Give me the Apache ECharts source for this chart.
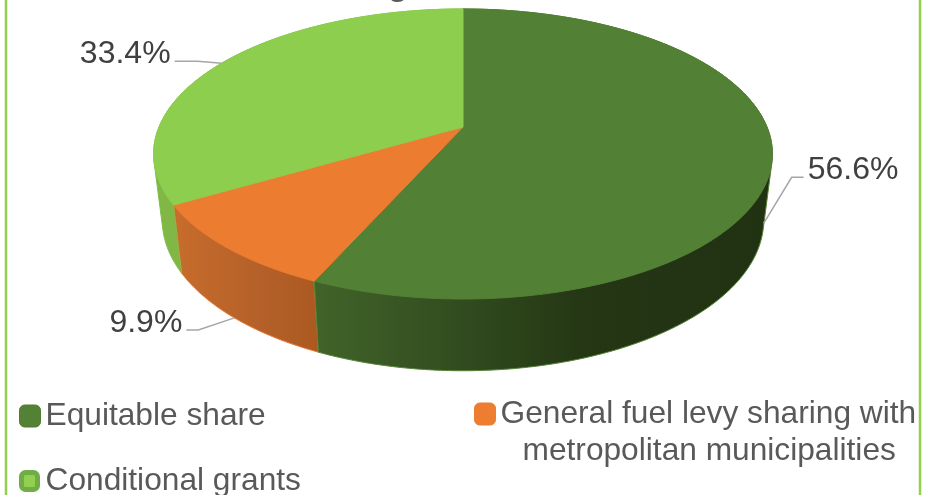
<!DOCTYPE html>
<html>
<head>
<meta charset="utf-8">
<style>html,body{margin:0;padding:0;background:#fff}#c{width:927px;height:495px}</style>
<script src="https://cdn.jsdelivr.net/npm/echarts@6/dist/echarts.min.js"></script>
</head>
<body>
<div id="c"></div>
<script>
const categories = ['Equitable share', 'General fuel levy sharing with metropolitan municipalities', 'Conditional grants'];
const values = [56.6, 9.9, 33.4];
const topColors = ['#528135', '#EB7C30', '#8ECE4F'];
const sideLeftColors = ['#41642A', '#C76D2C', '#80B746'];
const sideMidColors = ['#243614', '#B5602A', '#80B746'];
const sideRightColors = ['#203212', '#AC5921', '#80B746'];
const edgeColors = ['#548235', '#ED7D31', '#7FBF45'];
const sideOrder = [1.5, 1, 0.5];
const labelOffsets = [[28, -46, 40, -46, 46], [-36, 12, -48, 12, -54], [-24, -2, -47, -2, -53]];

// projection of the tilted disc
const CX = 463, CY = 127, A = 304, B = 140, K = 0.186, SX = 0.972;
function topPoint(t) {
  const u = Math.sin(t), v = Math.cos(t), w = 1 + K * v;
  return [CX + A * u / w, CY - B * v / w];
}
function basePoint(t) {
  const p = topPoint(t);
  return [CX + (p[0] - CX) * SX, p[1] + 68 + (p[1] - 205) * 0.04];
}
function hull(pts) {
  const s = pts.slice().sort((a, b) => a[0] - b[0] || a[1] - b[1]);
  const cross = (o, a, b) => (a[0] - o[0]) * (b[1] - o[1]) - (a[1] - o[1]) * (b[0] - o[0]);
  const half = list => {
    const h = [];
    list.forEach(p => {
      while (h.length >= 2 && cross(h[h.length - 2], h[h.length - 1], p) <= 0) h.pop();
      h.push(p);
    });
    h.pop();
    return h;
  };
  return half(s).concat(half(s.slice().reverse()));
}
const total = values.reduce((a, b) => a + b, 0);
function sliceAngles(i) {
  const before = values.slice(0, i).reduce((a, b) => a + b, 0);
  return [before / total * Math.PI * 2, (before + values[i]) / total * Math.PI * 2];
}
function makeRender(i) {
  return function (params, api) {
    const [a0, a1] = sliceAngles(i);
    const n = Math.max(8, Math.round((a1 - a0) * 90));
    const topArc = [], baseArc = [];
    for (let k = 0; k <= n; k++) {
      const t = a0 + (a1 - a0) * k / n;
      topArc.push(topPoint(t));
      baseArc.push(basePoint(t));
    }
    const xs = topArc.concat(baseArc).map(p => p[0]);
    const x0 = Math.min.apply(null, xs), x1 = Math.max.apply(null, xs);
    const sideFill = new echarts.graphic.LinearGradient(x0, 0, x1, 0, [
      { offset: 0, color: sideLeftColors[i] },
      { offset: 0.6, color: sideMidColors[i] },
      { offset: 1, color: sideRightColors[i] }
    ], true);
    const mid = (a0 + a1) / 2;
    const onSide = Math.cos(mid) < 0.2;
    const anchor = onSide ? basePoint(mid) : topPoint(mid);
    const off = labelOffsets[i];
    const elbow = [anchor[0] + off[0], anchor[1] + off[1]];
    const end = [anchor[0] + off[2], anchor[1] + off[3]];
    const right = off[4] > 0;
    return {
      type: 'group',
      children: [
        {
          type: 'polygon', z2: sideOrder[i],
          shape: { points: hull(topArc.concat(baseArc)) },
          style: { fill: sideFill, stroke: edgeColors[i], lineWidth: 1 }
        },
        {
          type: 'polyline', z2: 1.8, invisible: i === 1,
          shape: { points: [topArc[0], baseArc[0]] },
          style: { fill: null, stroke: edgeColors[i], lineWidth: 1 }
        },
        {
          type: 'polygon', z2: 2,
          shape: { points: [[CX, CY]].concat(topArc) },
          style: { fill: topColors[i], stroke: topColors[i], lineWidth: 1 }
        },
        {
          type: 'polyline', z2: 3,
          shape: { points: [anchor, elbow, end] },
          style: { fill: null, stroke: '#A6A6A6', lineWidth: 1.5 }
        },
        {
          type: 'text', z2: 4,
          style: {
            x: anchor[0] + off[2] + (right ? 4 : -4),
            y: anchor[1] + off[3] - 7,
            text: values[i].toFixed(1) + '%',
            fill: '#404040',
            font: '32px "Liberation Sans", Arial, sans-serif',
            align: right ? 'left' : 'right',
            verticalAlign: 'middle'
          }
        }
      ]
    };
  };
}
const legendFont = { color: '#595959', fontSize: 31.7, fontFamily: '"Liberation Sans", Arial, sans-serif' };
const legendBase = { orient: 'horizontal', selectedMode: false, itemWidth: 21, itemHeight: 22, itemGap: 0, icon: 'roundRect', padding: 0 };
const chart = echarts.init(document.getElementById('c'), null, { renderer: 'canvas' });
chart.setOption({
  animation: false,
  backgroundColor: '#fff',
  graphic: [
    { type: 'rect', silent: true, z: 0, shape: { x: 6, y: -10, width: 914, height: 520 }, style: { fill: 'none', stroke: '#92D050', lineWidth: 2.5 } },
    { type: 'text', silent: true, z: 0, style: { x: 398, y: 3, text: 'g', fill: '#595959', font: 'bold 34px "Liberation Sans", Arial, sans-serif', align: 'center', verticalAlign: 'bottom' } }
  ],
  legend: [
    Object.assign({}, legendBase, { left: 19, top: 400, textStyle: Object.assign({}, legendFont),
      data: [{ name: categories[0], itemStyle: { color: '#548235', borderColor: '#4E7A31', borderWidth: 1 } }] }),
    Object.assign({}, legendBase, { left: 474, top: 361,
      formatter: () => '{c| }\n{a|General fuel levy sharing with}\n{b|metropolitan municipalities}',
      textStyle: Object.assign({ rich: {
        a: Object.assign({ lineHeight: 37 }, legendFont),
        b: Object.assign({ lineHeight: 37, padding: [0, 0, 0, 22] }, legendFont),
        c: Object.assign({ lineHeight: 37 }, legendFont)
      } }, legendFont),
      data: [{ name: categories[1], itemStyle: { color: '#ED7D31', borderColor: '#ED7D31', borderWidth: 1 } }] }),
    Object.assign({}, legendBase, { left: 19, top: 465, itemWidth: 16, itemHeight: 17, textStyle: Object.assign({ padding: [0, 0, 0, 3] }, legendFont),
      data: [{ name: categories[2], itemStyle: { color: '#92D050', borderColor: '#70AD47', borderWidth: 5 } }] })
  ],
  series: categories.map((name, i) => ({
    type: 'custom', name, coordinateSystem: 'none', silent: true,
    itemStyle: { color: topColors[i] },
    data: [[values[i]]],
    renderItem: makeRender(i)
  }))
});
</script>
</body>
</html>
